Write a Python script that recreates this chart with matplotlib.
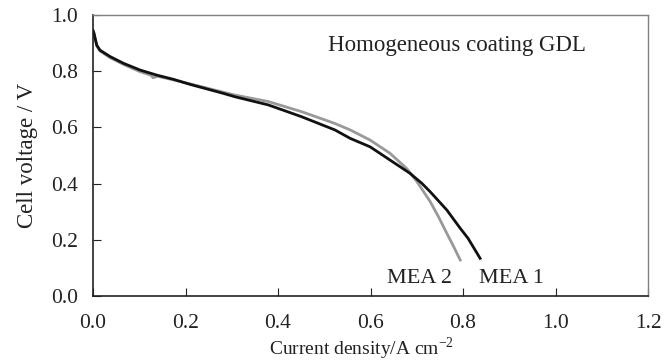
import matplotlib
matplotlib.use('Agg')
import matplotlib.pyplot as plt

plt.rcParams['font.family'] = ['Liberation Serif', 'DejaVu Serif']
plt.rcParams['mathtext.fontset'] = 'custom'
plt.rcParams['mathtext.rm'] = 'Liberation Serif'

# MEA 1 (black) - current density (A/cm2) vs cell voltage (V)
mea1_j = [0.0, 0.002, 0.008, 0.015, 0.037, 0.066, 0.102, 0.138, 0.174, 0.210, 0.246,
          0.282, 0.307, 0.379, 0.451, 0.523, 0.556, 0.599, 0.642, 0.685, 0.711,
          0.729, 0.765, 0.794, 0.811, 0.837]
mea1_v = [0.945, 0.936, 0.893, 0.875, 0.852, 0.828, 0.804, 0.786, 0.771, 0.753, 0.737,
          0.721, 0.709, 0.680, 0.638, 0.591, 0.561, 0.531, 0.484, 0.437, 0.401,
          0.371, 0.306, 0.241, 0.205, 0.134]

# MEA 2 (grey)
mea2_j = [0.0, 0.002, 0.008, 0.015, 0.037, 0.066, 0.102, 0.125, 0.130, 0.140, 0.174,
          0.210, 0.246, 0.282, 0.307, 0.379, 0.451, 0.523, 0.556, 0.599, 0.642,
          0.678, 0.700, 0.729, 0.747, 0.765, 0.780, 0.794]
mea2_v = [0.945, 0.934, 0.890, 0.872, 0.848, 0.824, 0.798, 0.786, 0.777, 0.782, 0.769,
          0.755, 0.740, 0.725, 0.715, 0.692, 0.656, 0.614, 0.591, 0.555, 0.508,
          0.454, 0.408, 0.336, 0.282, 0.223, 0.175, 0.128]

x_ticks = [0.0, 0.2, 0.4, 0.6, 0.8, 1.0, 1.2]
y_ticks = [0.0, 0.2, 0.4, 0.6, 0.8, 1.0]

fig = plt.figure(figsize=(6.72, 3.64), dpi=100)
ax = fig.add_axes([0.1384, 0.1868, 0.8259, 0.772])

ax.plot(mea2_j, mea2_v, color='#999999', linewidth=2.0)
ax.plot(mea1_j, mea1_v, color='#111111', linewidth=2.0)

ax.set_xlim(0, 1.2)
ax.set_ylim(0, 1.0)
ax.set_xticks(x_ticks)
ax.set_yticks(y_ticks)
ax.set_xticklabels([f'{t:.1f}' for t in x_ticks])
ax.set_yticklabels([f'{t:.1f}' for t in y_ticks])
ax.tick_params(direction='in', length=6, width=0.8, labelsize=15.5, color='#222222', labelcolor='#222222')
ax.tick_params(axis='x', pad=13)
ax.tick_params(axis='y', pad=11)

for side in ['left', 'bottom']:
    ax.spines[side].set_color('#222222')
    ax.spines[side].set_linewidth(1.2)
for side in ['top', 'right']:
    ax.spines[side].set_color('#808080')
    ax.spines[side].set_linewidth(1.0)

ax.text(0.509, 0.893, 'Homogeneous coating GDL', fontsize=16.5, va='center', ha='left', color='#222222')
ax.text(0.706, 0.064, 'MEA 2', fontsize=16, va='center', ha='center', color='#222222')
ax.text(0.905, 0.064, 'MEA 1', fontsize=16, va='center', ha='center', color='#222222')

ax.set_xlabel('Current density/A cm$^{-2}$', fontsize=14, color='#222222')
ax.xaxis.set_label_coords(0.483, -0.14)
ax.set_ylabel('Cell voltage / V', fontsize=16.5, color='#222222', labelpad=9)

plt.savefig('out.png', dpi=100)
